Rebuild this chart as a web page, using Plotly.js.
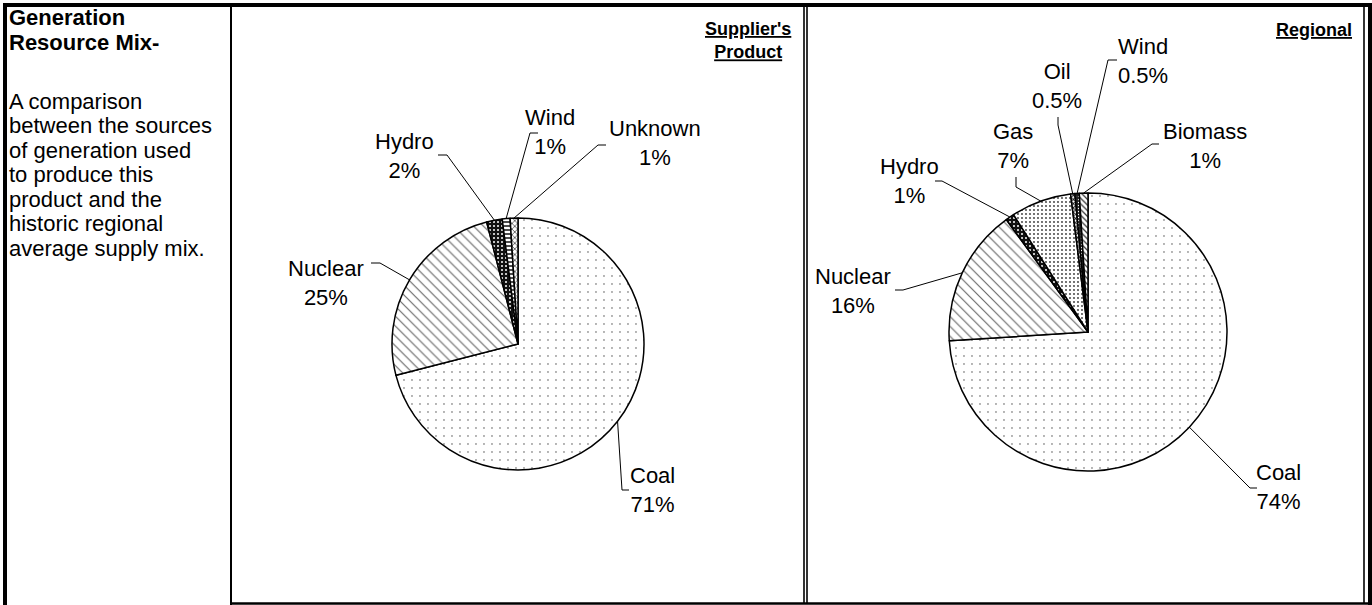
<!DOCTYPE html>
<html><head><meta charset="utf-8">
<script src="https://cdn.plot.ly/plotly-3.0.1.min.js"></script>
<style>html,body{margin:0;padding:0;background:#fff;overflow:hidden}#chart{width:1372px;height:605px}</style>
</head><body><div id="chart"></div>
<script>
// ---- data ----
const supplierLabels = ['Coal', 'Nuclear', 'Hydro', 'Wind', 'Unknown'];
const supplierValues = [71, 25, 2, 1, 1];
const regionalLabels = ['Coal', 'Nuclear', 'Hydro', 'Gas', 'Oil', 'Wind', 'Biomass'];
const regionalValues = [74, 16, 1, 7, 0.5, 0.5, 1];
const supplierTitle = "Supplier's<br>Product";
const regionalTitle = 'Regional';
const sideHeading = ['Generation', 'Resource Mix-'];
const sideText = ['A comparison', 'between the sources', 'of generation used', 'to produce this',
                  'product and the', 'historic regional', 'average supply mix.'];

// ---- styles ----
const W = 1372, H = 605;
const FONT = 'Liberation Sans, Arial, Helvetica, sans-serif';
const fx = x => x / W, fy = y => 1 - y / H;

const sliceStyle = {
  Coal:    {bg: '#ffffff', fg: '#444444', shape: '.',  size: 8, sol: 0.025},
  Nuclear: {bg: '#ffffff', fg: '#666666', shape: '\\', size: 7, sol: 0.16},
  Hydro:   {bg: '#111111', fg: '#ffffff', shape: '.',  size: 4, sol: 0.2},
  Wind:    {bg: '#ffffff', fg: '#000000', shape: '-',  size: 4, sol: 0.35},
  Unknown: {bg: '#ffffff', fg: '#222222', shape: 'x',  size: 4, sol: 0.3},
  Gas:     {bg: '#ffffff', fg: '#333333', shape: '.',  size: 4, sol: 0.16},
  Oil:     {bg: '#ffffff', fg: '#111111', shape: 'x',  size: 3, sol: 0.5},
  Biomass: {bg: '#ffffff', fg: '#333333', shape: '\\', size: 4, sol: 0.3}
};
const regionalWind = {bg: '#222222', fg: '#ffffff', shape: '.', size: 3, sol: 0.15};

// label layout (text centre, elbow, stub end) in page pixels
const supplierLabelPos = {
  Coal:    {t: [652, 490], e: [622, 490], s: [629, 490]},
  Nuclear: {t: [326, 283], e: [380, 263], s: [371, 263]},
  Hydro:   {t: [404, 156], e: [447, 155], s: [438, 155]},
  Wind:    {t: [550, 132], e: [530, 133], s: [538, 133]},
  Unknown: {t: [655, 143], e: [598, 145], s: [606, 145]}
};
const regionalLabelPos = {
  Coal:    {t: [1278, 487], e: [1250, 488], s: [1257, 488]},
  Nuclear: {t: [853, 291], e: [903, 290], s: [895, 290]},
  Hydro:   {t: [909, 181], e: [942, 181], s: [935, 181]},
  Gas:     {t: [1013, 146], e: [1016, 187], s: [1016, 177]},
  Oil:     {t: [1057, 86], e: [1058, 125], s: [1058, 117]},
  Wind:    {t: [1143, 61], e: [1108, 60], s: [1117, 60]},
  Biomass: {t: [1205, 146], e: [1152, 144], s: [1159, 144]}
};

const pies = [
  {labels: supplierLabels, values: supplierValues, cx: 518, cy: 344, r: 126, pos: supplierLabelPos, windStyle: null},
  {labels: regionalLabels, values: regionalValues, cx: 1088, cy: 332, r: 139, pos: regionalLabelPos, windStyle: regionalWind}
];

const fmtPct = v => (Number.isInteger(v) ? String(v) : v.toFixed(1)) + '%';

const traces = [], annotations = [], shapes = [];

pies.forEach(p => {
  const st = p.labels.map(l => (l === 'Wind' && p.windStyle) ? p.windStyle : sliceStyle[l]);
  traces.push({
    type: 'pie', labels: p.labels, values: p.values, sort: false, direction: 'clockwise', rotation: 0,
    textinfo: 'none', hoverinfo: 'skip', showlegend: false,
    domain: {x: [fx(p.cx - p.r), fx(p.cx + p.r)], y: [fy(p.cy + p.r), fy(p.cy - p.r)]},
    marker: {
      colors: st.map(s => s.bg),
      line: {color: '#000', width: 1.5},
      pattern: {shape: st.map(s => s.shape), fgcolor: st.map(s => s.fg), bgcolor: st.map(s => s.bg),
                size: st.map(s => s.size), solidity: st.map(s => s.sol), fillmode: 'replace'}
    }
  });
  const total = p.values.reduce((a, b) => a + b, 0);
  let cum = 0;
  p.labels.forEach((lab, i) => {
    const mid = (cum + p.values[i] / 2) / total;
    cum += p.values[i];
    const th = 2 * Math.PI * mid;
    const ax = p.cx + p.r * Math.sin(th), ay = p.cy - p.r * Math.cos(th);
    const L = p.pos[lab];
    annotations.push({
      xref: 'paper', yref: 'paper', x: fx(L.t[0]), y: fy(L.t[1]), xanchor: 'center', yanchor: 'middle',
      text: lab + '<br>' + fmtPct(p.values[i]), showarrow: false, align: 'center',
      font: {family: FONT, size: 22, color: '#000'}
    });
    shapes.push({
      type: 'path', xref: 'paper', yref: 'paper',
      path: `M ${fx(ax)},${fy(ay)} L ${fx(L.e[0])},${fy(L.e[1])} L ${fx(L.s[0])},${fy(L.s[1])}`,
      line: {color: '#000', width: 1}
    });
  });
});

// panel titles
annotations.push({xref: 'paper', yref: 'paper', x: fx(793), y: fy(41), xanchor: 'right', yanchor: 'middle',
  text: supplierTitle.split('<br>').map(t => '<b><u>' + t + '</u></b>').join('<br>'), showarrow: false, align: 'center',
  font: {family: FONT, size: 18, color: '#000'}});
annotations.push({xref: 'paper', yref: 'paper', x: fx(1354), y: fy(30), xanchor: 'right', yanchor: 'middle',
  text: '<b><u>' + regionalTitle + '</u></b>', showarrow: false, align: 'right',
  font: {family: FONT, size: 18, color: '#000'}});

// side column text
sideHeading.forEach((t, i) => annotations.push({xref: 'paper', yref: 'paper', x: fx(7), y: fy(18 + 24.5 * i),
  xanchor: 'left', yanchor: 'middle', text: '<b>' + t + '</b>', showarrow: false,
  font: {family: FONT, size: 22, color: '#000'}}));
sideText.forEach((t, i) => annotations.push({xref: 'paper', yref: 'paper', x: fx(7), y: fy(101 + 24.5 * i),
  xanchor: 'left', yanchor: 'middle', text: t, showarrow: false,
  font: {family: FONT, size: 22, color: '#000'}}));

// frame
const rect = (x0, y0, x1, y1) => ({type: 'rect', xref: 'paper', yref: 'paper', x0: fx(x0), x1: fx(x1), y0: fy(y1), y1: fy(y0),
  fillcolor: '#000', line: {width: 0}});
const vline = (x, y0, y1, w) => ({type: 'line', xref: 'paper', yref: 'paper', x0: fx(x), x1: fx(x), y0: fy(y0), y1: fy(y1),
  line: {color: '#000', width: w}});
const hline = (y, x0, x1, w) => ({type: 'line', xref: 'paper', yref: 'paper', x0: fx(x0), x1: fx(x1), y0: fy(y), y1: fy(y),
  line: {color: '#000', width: w}});
shapes.push(rect(3, 3, 1372, 7));
shapes.push(rect(3, 3, 7, 605));
shapes.push(vline(231, 7, 605, 2));
shapes.push(vline(804, 7, 604, 1.6));
shapes.push(vline(807, 7, 604, 1.6));
shapes.push(vline(1364, 7, 604, 1.6));
shapes.push(rect(1368, 3, 1372, 605));
shapes.push(hline(603.5, 230, 1372, 2.5));

Plotly.newPlot('chart', traces, {
  width: W, height: H, margin: {l: 0, r: 0, t: 0, b: 0},
  paper_bgcolor: '#fff', plot_bgcolor: '#fff',
  annotations: annotations, shapes: shapes, showlegend: false
}, {staticPlot: true, displayModeBar: false});
</script>
</body></html>
